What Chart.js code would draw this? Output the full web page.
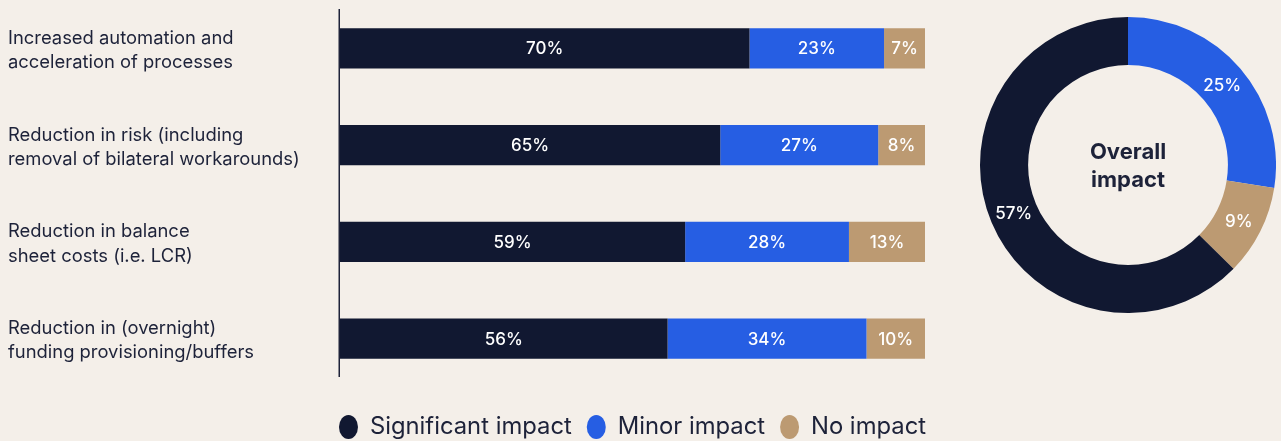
<!DOCTYPE html>
<html>
<head>
<meta charset="utf-8">
<script src="https://cdn.jsdelivr.net/npm/chart.js@4.4.1/dist/chart.umd.min.js"></script>
<style>
  html, body { margin: 0; padding: 0; background: #f4efe9; }
  #wrap { position: relative; width: 1281px; height: 441px; }
  #bars { position: absolute; left: 0; top: 0; }
  #donut { position: absolute; left: 980px; top: 17px; }
</style>
</head>
<body>
<div id="wrap">
  <canvas id="bars" width="1281" height="441"></canvas>
  <canvas id="donut" width="296" height="296"></canvas>
</div>
<script>
// data
var categories = [
  ['Increased automation and', 'acceleration of processes'],
  ['Reduction in risk (including', 'removal of bilateral workarounds)'],
  ['Reduction in balance', 'sheet costs (i.e. LCR)'],
  ['Reduction in (overnight)', 'funding provisioning/buffers']
];
var seriesNames = ['Significant impact', 'Minor impact', 'No impact'];
var significant = [70, 65, 59, 56];
var minor = [23, 27, 28, 34];
var noImpact = [7, 8, 13, 10];

// overall doughnut, clockwise from 12 o'clock
var overallLabels = ['Minor impact', 'No impact', 'Significant impact'];
var overall = [25, 9, 57];
var centerLines = ['Overall', 'impact'];

var NAVY = '#111831', BLUE = '#265ee3', TAN = '#bc9a72', INK = '#1d2239';
var FONT = 'Inter, "Noto Sans", sans-serif';

// white % labels in the middle of every bar / arc
var valueLabels = {
  id: 'valueLabels',
  afterDatasetsDraw: function(chart) {
    var ctx = chart.ctx;
    ctx.save();
    ctx.fillStyle = '#ffffff';
    ctx.font = '500 17px ' + FONT;
    ctx.textAlign = 'center';
    ctx.textBaseline = 'middle';
    chart.data.datasets.forEach(function(ds, i) {
      chart.getDatasetMeta(i).data.forEach(function(el, j) {
        var p = el.getCenterPoint();
        ctx.fillText(ds.data[j] + '%', p.x, p.y + 1);
      });
    });
    ctx.restore();
  }
};

// the thin vertical axis line, a bit shorter than the plot area
var axisLine = {
  id: 'axisLine',
  beforeDatasetsDraw: function(chart) {
    var a = chart.chartArea;
    var ctx = chart.ctx;
    ctx.save();
    ctx.strokeStyle = INK;
    ctx.lineWidth = 1.5;
    ctx.beginPath();
    ctx.moveTo(a.left - 0.75, a.top + 9);
    ctx.lineTo(a.left - 0.75, a.bottom - 10);
    ctx.stroke();
    ctx.restore();
  }
};

var centerText = {
  id: 'centerText',
  afterDraw: function(chart) {
    var arc = chart.getDatasetMeta(0).data[0];
    var ctx = chart.ctx;
    ctx.save();
    ctx.fillStyle = INK;
    ctx.font = 'bold 22px ' + FONT;
    ctx.textAlign = 'center';
    ctx.textBaseline = 'middle';
    ctx.fillText(centerLines[0], arc.x, arc.y - 13);
    ctx.fillText(centerLines[1], arc.x, arc.y + 15);
    ctx.restore();
  }
};

new Chart(document.getElementById('bars'), {
  type: 'bar',
  data: {
    labels: categories,
    datasets: [
      { label: seriesNames[0], data: significant, backgroundColor: NAVY },
      { label: seriesNames[1], data: minor, backgroundColor: BLUE },
      { label: seriesNames[2], data: noImpact, backgroundColor: TAN }
    ]
  },
  options: {
    indexAxis: 'y',
    responsive: false,
    animation: false,
    events: [],
    layout: { padding: { left: 8, right: 24, top: 0, bottom: 0 } },
    datasets: { bar: { barPercentage: 0.414, categoryPercentage: 1, borderWidth: 0 } },
    scales: {
      x: { stacked: true, min: 0, max: 100, display: false },
      y: {
        stacked: true,
        grid: { display: false },
        border: { display: false },
        ticks: {
          crossAlign: 'far',
          padding: 0,
          labelOffset: 2,
          color: INK,
          font: { family: FONT, size: 18.4, lineHeight: 1.32 }
        },
        afterFit: function(s) {
          s.width = 332;
          // labels sit inside their bands, no extra room needed
          s.paddingTop = 0;
          s.paddingBottom = 0;
        }
      },
      // empty right axis, only reserves room for the doughnut
      pad: {
        type: 'linear',
        position: 'right',
        grid: { display: false },
        border: { display: false },
        ticks: { display: false },
        afterFit: function(s) {
          s.width = 332;
          s.paddingTop = 0;
          s.paddingBottom = 0;
        }
      }
    },
    plugins: {
      tooltip: { enabled: false },
      legend: {
        position: 'bottom',
        maxHeight: 54,
        // blank title just pushes the row down a little
        title: { display: true, text: ' ', padding: 0, font: { size: 13, lineHeight: 1 } },
        labels: {
          usePointStyle: true,
          pointStyle: 'circle',
          pointStyleWidth: 19,
          boxHeight: 17,
          padding: 15,
          color: INK,
          font: { family: FONT, size: 23.8 }
        }
      }
    }
  },
  plugins: [axisLine, valueLabels]
});

new Chart(document.getElementById('donut'), {
  type: 'doughnut',
  data: {
    labels: overallLabels,
    datasets: [{ data: overall, backgroundColor: [BLUE, TAN, NAVY], borderWidth: 0 }]
  },
  options: {
    responsive: false,
    animation: false,
    events: [],
    cutout: '67.5%',
    rotation: 0,
    layout: { padding: 0 },
    plugins: { legend: { display: false }, tooltip: { enabled: false } }
  },
  plugins: [valueLabels, centerText]
});
</script>
</body>
</html>
